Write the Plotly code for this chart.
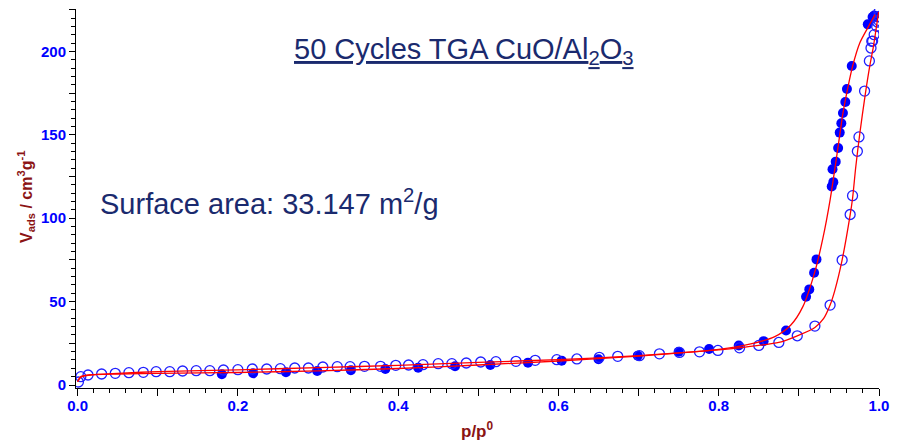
import plotly.graph_objects as go

# ---- data ----
ads_x = [0.180, 0.219, 0.260, 0.299, 0.341, 0.384, 0.425, 0.471, 0.515, 0.562, 0.604, 0.650,
         0.699, 0.750, 0.788, 0.825, 0.856, 0.884, 0.909, 0.913, 0.919, 0.922, 0.941, 0.942,
         0.943, 0.946, 0.949, 0.951, 0.953, 0.955, 0.958, 0.960, 0.966, 0.986, 0.992, 0.994]
ads_y = [6.4, 7.0, 7.6, 8.4, 8.8, 9.6, 10.4, 11.2, 12.0, 13.4, 14.6, 15.4,
         17.6, 19.9, 21.6, 23.7, 26.3, 32.7, 52.9, 57.3, 67.3, 75.3, 119.0, 129.3,
         121.6, 133.9, 142.1, 151.3, 156.9, 163.1, 169.6, 177.4, 191.2, 216.2, 220.6, 221.5]

des_x = [1.000, 1.000, 0.9995, 0.998, 0.997, 0.994, 0.992, 0.991, 0.990, 0.988, 0.982, 0.975,
         0.973, 0.967, 0.964, 0.954, 0.939, 0.920, 0.898, 0.875, 0.850, 0.826, 0.799, 0.776,
         0.751, 0.726, 0.701, 0.674, 0.651, 0.623, 0.598, 0.571, 0.547, 0.522, 0.503, 0.485,
         0.467, 0.450, 0.431, 0.413, 0.397, 0.378, 0.358, 0.340, 0.324, 0.306, 0.288, 0.271,
         0.253, 0.236, 0.218, 0.200, 0.182, 0.165, 0.148, 0.131, 0.115, 0.098, 0.082, 0.064,
         0.047, 0.030, 0.013, 0.004, 0.001]
des_y = [223.7, 221.0, 218.6, 217.6, 215.0, 210.0, 206.2, 206.0, 202.0, 194.3, 176.2, 148.7,
         140.1, 113.5, 102.2, 74.9, 47.9, 35.3, 29.5, 25.5, 23.7, 22.3, 20.7, 19.9,
         19.5, 18.7, 17.6, 17.2, 16.6, 15.6, 15.2, 14.8, 14.2, 14.0, 13.8, 13.2,
         12.8, 12.8, 12.2, 12.0, 11.8, 11.2, 11.2, 11.0, 11.0, 10.8, 10.2, 10.2,
         9.8, 9.6, 9.6, 9.2, 9.0, 8.6, 8.6, 8.4, 8.0, 8.0, 7.6, 7.4,
         7.0, 6.6, 6.0, 5.0, 1.8]

ads_fit_x = [0.0, 0.004, 0.015, 0.05, 0.1, 0.2, 0.3, 0.4, 0.5, 0.6, 0.7, 0.8, 0.84, 0.87,
             0.89, 0.905, 0.92, 0.93, 0.939, 0.949, 0.955, 0.961, 0.967, 0.976, 0.987, 0.995]
ads_fit_y = [2.0, 4.6, 6.0, 6.6, 7.0, 7.5, 8.5, 9.9, 12.0, 14.4, 17.3, 21.3, 24.6, 29.0,
             36.0, 47.0, 68.0, 88.0, 111.0, 143.0, 163.0, 178.0, 191.0, 205.0, 215.0, 222.0]

des_fit_x = [0.9995, 0.993, 0.989, 0.983, 0.976, 0.971, 0.967, 0.964, 0.954, 0.945, 0.939,
             0.931, 0.92, 0.898, 0.875, 0.85, 0.826, 0.8, 0.7, 0.6, 0.5, 0.4, 0.3, 0.2,
             0.1, 0.05, 0.015, 0.004, 0.0]
des_fit_y = [223.7, 202.8, 192.6, 174.7, 150.6, 130.7, 111.8, 102.0, 75.0, 56.9, 47.9,
             39.9, 34.5, 29.5, 25.5, 23.7, 22.3, 21.0, 17.6, 15.2, 13.6, 11.8, 10.4, 9.1,
             8.0, 7.0, 6.0, 5.0, 2.0]

# labelled ticks
x_tickvals = [0.0, 0.2, 0.4, 0.6, 0.8, 1.0]
x_ticktext = ["0.0", "0.2", "0.4", "0.6", "0.8", "1.0"]
y_tickvals = [0, 50, 100, 150, 200]
y_ticktext = ["0", "50", "100", "150", "200"]
# long unlabelled ticks
x_mid_ticks = [0.1, 0.3, 0.5, 0.7, 0.9]
y_mid_ticks = [25, 75, 125, 175, 225]

title_text = "50 Cycles TGA CuO/Al<sub>2</sub>O<sub>3</sub>"
area_text = "Surface area: 33.147 m<sup>2</sup>/g"
x_title = "<b>p/p<sup>0</sup></b>"
y_title = "<b>V<sub>ads</sub> / cm<sup>3</sup>g<sup>-1</sup></b>"

FONT = "Liberation Sans, Arial, sans-serif"
BLUE = "#0000FF"
RED = "#FF0000"
DARKRED = "#8B1414"
NAVY = "#1A2A6E"
X_RANGE = [-0.002, 1.0]
Y_RANGE = [-1.8, 225.4]

fig = go.Figure()
fig.add_trace(go.Scatter(x=ads_x, y=ads_y, mode="markers",
                         marker=dict(symbol="circle", size=10, color=BLUE, line=dict(width=0)),
                         showlegend=False))
fig.add_trace(go.Scatter(x=des_x, y=des_y, mode="markers",
                         marker=dict(symbol="circle-open", size=10, color="#2020FF",
                                     line=dict(width=1.3, color="#2020FF")),
                         showlegend=False))
fig.add_trace(go.Scatter(x=ads_fit_x, y=ads_fit_y, mode="lines",
                         line=dict(color=RED, width=1.3, shape="spline", smoothing=0.8),
                         showlegend=False))
fig.add_trace(go.Scatter(x=des_fit_x, y=des_fit_y, mode="lines",
                         line=dict(color=RED, width=1.3, shape="spline", smoothing=0.8),
                         showlegend=False))
# carrier for the overlay axes that hold the long unlabelled ticks
fig.add_trace(go.Scatter(x=[None], y=[None], xaxis="x2", yaxis="y2", mode="markers",
                         showlegend=False, hoverinfo="skip"))

tickfont = dict(family=FONT, size=15, color=BLUE, weight="bold")
fig.update_layout(
    xaxis=dict(range=X_RANGE, showline=True, linecolor="black", linewidth=1,
               mirror=False, showgrid=False, zeroline=False,
               tickmode="array", tickvals=x_tickvals, ticktext=x_ticktext,
               ticks="outside", ticklen=7, tickwidth=1, tickcolor="black",
               tickfont=tickfont, ticklabelstandoff=-3,
               minor=dict(tickmode="linear", tick0=0, dtick=0.02, ticks="outside",
                          ticklen=4, tickwidth=1, tickcolor="black", showgrid=False)),
    yaxis=dict(range=Y_RANGE, showline=True, linecolor="black", linewidth=1,
               mirror=False, showgrid=False, zeroline=False,
               tickmode="array", tickvals=y_tickvals, ticktext=y_ticktext,
               ticks="outside", ticklen=6, tickwidth=1, tickcolor="black",
               tickfont=tickfont,
               minor=dict(tickmode="linear", tick0=0, dtick=5, ticks="outside",
                          ticklen=4, tickwidth=1, tickcolor="black", showgrid=False)),
    xaxis2=dict(range=X_RANGE, overlaying="x", anchor="y", side="bottom",
                showline=False, showgrid=False, zeroline=False, showticklabels=False,
                tickmode="array", tickvals=x_mid_ticks, ticks="outside", ticklen=7,
                tickwidth=1, tickcolor="black"),
    yaxis2=dict(range=Y_RANGE, overlaying="y", anchor="x", side="left",
                showline=False, showgrid=False, zeroline=False, showticklabels=False,
                tickmode="array", tickvals=y_mid_ticks, ticks="outside", ticklen=6,
                tickwidth=1, tickcolor="black"),
)

fig.add_annotation(text=title_text, xref="paper", yref="paper", x=0.4826, y=0.8885,
                   xanchor="center", yanchor="middle", showarrow=False,
                   font=dict(family=FONT, size=29, color=NAVY, lineposition="under"))
fig.add_annotation(text=area_text, xref="paper", yref="paper", x=0.027, y=0.492,
                   xanchor="left", yanchor="middle", showarrow=False,
                   font=dict(family=FONT, size=29, color=NAVY))
fig.add_annotation(text=x_title, xref="paper", yref="paper", x=0.500, y=-0.111,
                   xanchor="center", yanchor="middle", showarrow=False,
                   font=dict(family=FONT, size=17, color=DARKRED))
fig.add_annotation(text=y_title, xref="paper", yref="paper", x=-0.0623, y=0.504,
                   xanchor="center", yanchor="middle", showarrow=False, textangle=-90,
                   font=dict(family=FONT, size=16, color=DARKRED))

fig.update_layout(width=906, height=442, margin=dict(l=76, r=27, t=9, b=54),
                  plot_bgcolor="white", paper_bgcolor="white")
fig.write_html("out.html")
